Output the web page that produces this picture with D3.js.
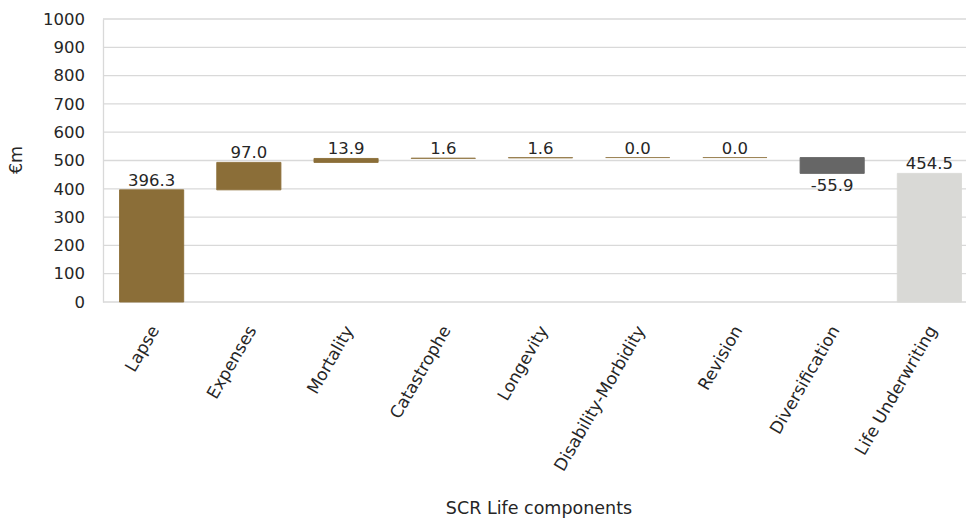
<!DOCTYPE html>
<html>
<head>
<meta charset="utf-8">
<script src="https://cdn.jsdelivr.net/npm/d3@7/dist/d3.min.js"></script>
<style>
  html, body { margin: 0; padding: 0; background: #ffffff; }
  svg { display: block; font-family: "DejaVu Sans", sans-serif; }
</style>
</head>
<body>
<svg id="chart" width="966" height="521"></svg>
<script>
// SCR Life components (€m), waterfall from individual risks to the total
const categories = ["Lapse", "Expenses", "Mortality", "Catastrophe", "Longevity",
  "Disability-Morbidity", "Revision", "Diversification", "Life Underwriting"];
const values = [396.3, 97.0, 13.9, 1.6, 1.6, 0.0, 0.0, -55.9, 454.5];
const kinds = ["risk", "risk", "risk", "risk", "risk", "risk", "risk", "diversification", "total"];
const yTicks = [0, 100, 200, 300, 400, 500, 600, 700, 800, 900, 1000];

const colours = { risk: "#8B6E38", diversification: "#666666", total: "#D9D9D6" };

const svg = d3.select("#chart");
const W = 966;
const plotBottom = 302;

const x = d3.scaleBand().domain(categories).range([103, 978]).paddingInner(0.34).paddingOuter(0.17);
const y = d3.scaleLinear().domain([0, 1000]).range([plotBottom, 19]);

// waterfall start / end for each step
let running = 0;
const steps = categories.map((c, i) => {
  let start, end;
  if (kinds[i] === "total") { start = 0; end = values[i]; running = values[i]; }
  else { start = running; end = running + values[i]; running = end; }
  return { cat: c, value: values[i], kind: kinds[i], start, end };
});

const fmt = v => (v < 0 ? "-" : "") + Math.abs(v).toFixed(1);

// horizontal gridlines
svg.append("g")
  .selectAll("line")
  .data(yTicks)
  .join("line")
  .attr("x1", 103).attr("x2", W)
  .attr("y1", d => y(d)).attr("y2", d => y(d))
  .attr("stroke", "#d9d9d9").attr("stroke-width", 1.3);

// y axis
const yAxis = svg.append("g")
  .attr("transform", `translate(103,0)`)
  .call(d3.axisLeft(y).tickValues(yTicks).tickSize(0).tickPadding(18).tickFormat(d3.format("d")));
yAxis.select(".domain").attr("stroke", "#d9d9d9").attr("stroke-width", 1.3);
yAxis.selectAll("text").attr("font-size", 16.5).attr("fill", "#262626")
  .attr("font-family", "DejaVu Sans, sans-serif");

// bars drawn as closed paths so that zero-height steps still show their edge
svg.append("g")
  .selectAll("path")
  .data(steps)
  .join("path")
  .attr("d", d => {
    const x0 = x(d.cat), x1 = x0 + x.bandwidth();
    const y0 = y(d.start), y1 = y(d.end);
    return `M${x0},${y0}H${x1}V${y1}H${x0}Z`;
  })
  .attr("fill", d => colours[d.kind])
  .attr("stroke", d => colours[d.kind])
  .attr("stroke-opacity", d => Math.abs(d.value) < 5 ? 0.7 : 1)
  .attr("stroke-width", 0.9);

// value labels
svg.append("g")
  .selectAll("text")
  .data(steps)
  .join("text")
  .attr("x", d => x(d.cat) + x.bandwidth() / 2)
  .attr("y", d => d.value < 0 ? y(d.end) + 18 : y(Math.max(d.start, d.end)) - 4)
  .attr("text-anchor", "middle")
  .attr("font-size", 16.5)
  .attr("fill", "#262626")
  .text(d => fmt(d.value));

// category labels
svg.append("g")
  .selectAll("text")
  .data(categories)
  .join("text")
  .attr("transform", d => `translate(${x(d) + x.bandwidth() / 2 + 8},${plotBottom + 28}) rotate(-60)`)
  .attr("text-anchor", "end")
  .attr("font-size", 17)
  .attr("fill", "#262626")
  .text(d => d);

// axis titles
svg.append("text")
  .attr("transform", "translate(22,160) rotate(-90)")
  .attr("text-anchor", "middle")
  .attr("font-size", 17.5)
  .attr("fill", "#262626")
  .text("€m");

svg.append("text")
  .attr("x", 539).attr("y", 514)
  .attr("text-anchor", "middle")
  .attr("font-size", 17.5)
  .attr("fill", "#262626")
  .text("SCR Life components");
</script>
</body>
</html>
